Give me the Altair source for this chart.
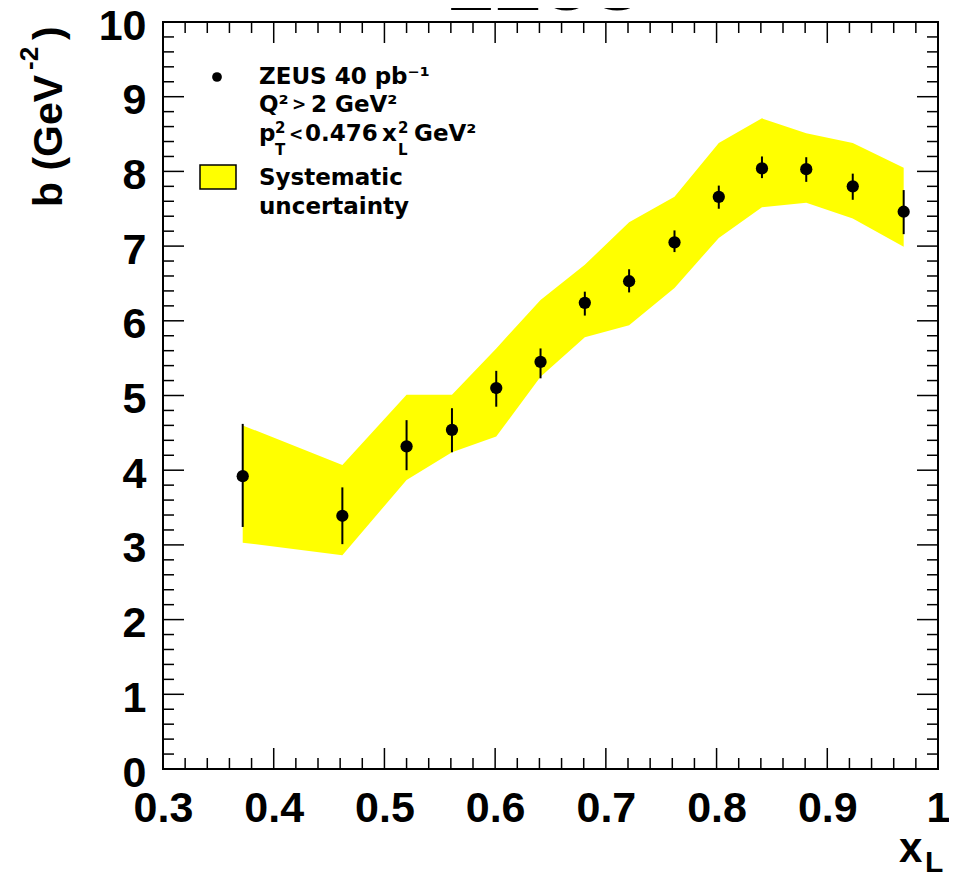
import altair as alt
import pandas as pd

# ---- data ----
x_L = [0.372, 0.462, 0.520, 0.561, 0.601, 0.641, 0.681, 0.721, 0.762, 0.802, 0.841, 0.881, 0.923, 0.969]
b_val = [3.92, 3.39, 4.32, 4.54, 5.10, 5.45, 6.24, 6.53, 7.05, 7.66, 8.04, 8.03, 7.80, 7.46]
stat_hi = [4.62, 3.77, 4.67, 4.83, 5.33, 5.63, 6.39, 6.69, 7.21, 7.81, 8.20, 8.19, 7.97, 7.75]
stat_lo = [3.24, 3.01, 4.00, 4.24, 4.85, 5.23, 6.07, 6.38, 6.92, 7.50, 7.91, 7.86, 7.62, 7.16]
sys_lo = [3.03, 2.86, 3.87, 4.24, 4.45, 5.25, 5.78, 5.94, 6.44, 7.11, 7.52, 7.58, 7.37, 6.99]
sys_hi = [4.60, 4.07, 5.01, 5.01, 5.63, 6.28, 6.75, 7.32, 7.66, 8.38, 8.71, 8.51, 8.38, 8.05]

x_major = [0.3, 0.4, 0.5, 0.6, 0.7, 0.8, 0.9, 1.0]
x_minor = [round(0.3 + 0.02 * i, 2) for i in range(36) if i % 5 != 0]
y_major = [0, 1, 2, 3, 4, 5, 6, 7, 8, 9, 10]
y_minor = [round(0.2 * i, 1) for i in range(51) if i % 5 != 0]

# ---- layout ----
LEFT, TOP = 163, 22          # page position of plot area
W, H = 775, 747
MAJ, MIN = 21, 11
LAB_FONT = "Liberation Sans"
LEG_FONT = "DejaVu Sans"

df = pd.DataFrame(dict(x=x_L, b=b_val, lo=stat_lo, hi=stat_hi, slo=sys_lo, shi=sys_hi))
dummy = pd.DataFrame({"a": [0]})

xs = alt.Scale(domain=[0.3, 1.0], nice=False, zero=False)
ys = alt.Scale(domain=[0, 10], nice=False, zero=False)

X_AX = alt.Axis(values=x_major, format="~g", title=None, ticks=False, tickSize=0,
                domain=False, grid=False, labelFont=LAB_FONT, labelFontSize=43,
                labelFontWeight="bold", labelColor="black", labelPadding=18,
                labelFlush=False, labelOverlap=False)
Y_AX = alt.Axis(values=y_major, format="d", title=None, ticks=False, tickSize=0,
                domain=False, grid=False, labelFont=LAB_FONT, labelFontSize=43,
                labelFontWeight="bold", labelColor="black", labelPadding=17,
                labelOffset=4, labelFlush=False, labelOverlap=False)


def X(f):
    return alt.X(f, type="quantitative", scale=xs, axis=X_AX)


def Y(f):
    return alt.Y(f, type="quantitative", scale=ys, axis=Y_AX)


band = alt.Chart(df).mark_area(color="#ffff00", opacity=1, interpolate="linear").encode(
    x=X("x"), y=Y("slo"), y2="shi")

errs = alt.Chart(df).mark_rule(color="black", strokeWidth=2).encode(
    x=X("x"), y=Y("lo"), y2="hi")

pts = alt.Chart(df).mark_circle(color="black", opacity=1, size=150).encode(
    x=X("x"), y=Y("b"))

layers = [band, errs, pts]

# inward ticks on all four sides
for vals, ln in ((x_major, MAJ), (x_minor, MIN)):
    d = pd.DataFrame({"v": vals})
    layers.append(alt.Chart(d).mark_rule(color="black", strokeWidth=1.5).encode(
        x=X("v"), y=alt.value(H), y2=alt.value(H - ln)))
    layers.append(alt.Chart(d).mark_rule(color="black", strokeWidth=1.5).encode(
        x=X("v"), y=alt.value(0), y2=alt.value(ln)))
for vals, ln in ((y_major, MAJ), (y_minor, MIN)):
    d = pd.DataFrame({"v": vals})
    layers.append(alt.Chart(d).mark_rule(color="black", strokeWidth=1.5).encode(
        y=Y("v"), x=alt.value(0), x2=alt.value(ln)))
    layers.append(alt.Chart(d).mark_rule(color="black", strokeWidth=1.5).encode(
        y=Y("v"), x=alt.value(W), x2=alt.value(W - ln)))


def txt(s, xp, yp, size, font=LEG_FONT, align="left", angle=0):
    return alt.Chart(dummy).mark_text(
        text=s, font=font, fontSize=size, fontWeight="bold", align=align,
        baseline="alphabetic", angle=angle, color="black").encode(
        x=alt.value(xp - LEFT), y=alt.value(yp - TOP))


# legend
layers.append(alt.Chart(dummy).mark_circle(color="black", opacity=1, size=95).encode(
    x=alt.value(217 - LEFT), y=alt.value(77 - TOP)))
layers.append(alt.Chart(dummy).mark_rect(fill="#ffff00", stroke="black", strokeWidth=1.5).encode(
    x=alt.value(200 - LEFT), x2=alt.value(236 - LEFT), y=alt.value(165 - TOP), y2=alt.value(189 - TOP)))

legend_pieces = [
    ("ZEUS 40 pb\u207b\u00b9", 259, 84, 23),
    ("Q\u00b2", 259, 112, 23), (">", 292, 110, 17), ("2 GeV\u00b2", 311, 112, 23),
    ("p", 259, 141, 23), ("2", 275, 133, 15), ("T", 275, 155, 15), ("<", 289, 140, 17),
    ("0.476", 305, 141, 23), ("x", 382, 141, 23), ("2", 398, 133, 15), ("L", 398, 155, 15),
    ("GeV\u00b2", 414, 141, 23),
    ("Systematic", 259, 185, 23), ("uncertainty", 259, 214, 23),
]
for s, xp, yp, sz in legend_pieces:
    layers.append(txt(s, xp, yp, sz))

# axis titles and top title
layers.append(txt("ZEUS", 545, 10, 72, font=LAB_FONT, align="center"))
layers.append(txt("b (GeV", 62, 207, 41, font=LAB_FONT, angle=270))
layers.append(txt("-2", 38, 70, 26, font=LAB_FONT, angle=270))
layers.append(txt(")", 62, 40, 41, font=LAB_FONT, angle=270))
layers.append(txt("x", 899, 862, 42, font=LAB_FONT))
layers.append(txt("L", 925, 872, 30, font=LAB_FONT))

chart = alt.layer(*layers).properties(
    width=W, height=H,
    autosize=alt.AutoSizeParams(type="none"),
    padding={"left": LEFT - 8, "top": TOP - 8, "right": 11, "bottom": 104},
    background="white",
).configure_view(stroke="black", strokeWidth=2)

chart.save("out.html", embed_options={"renderer": "svg", "actions": False})
